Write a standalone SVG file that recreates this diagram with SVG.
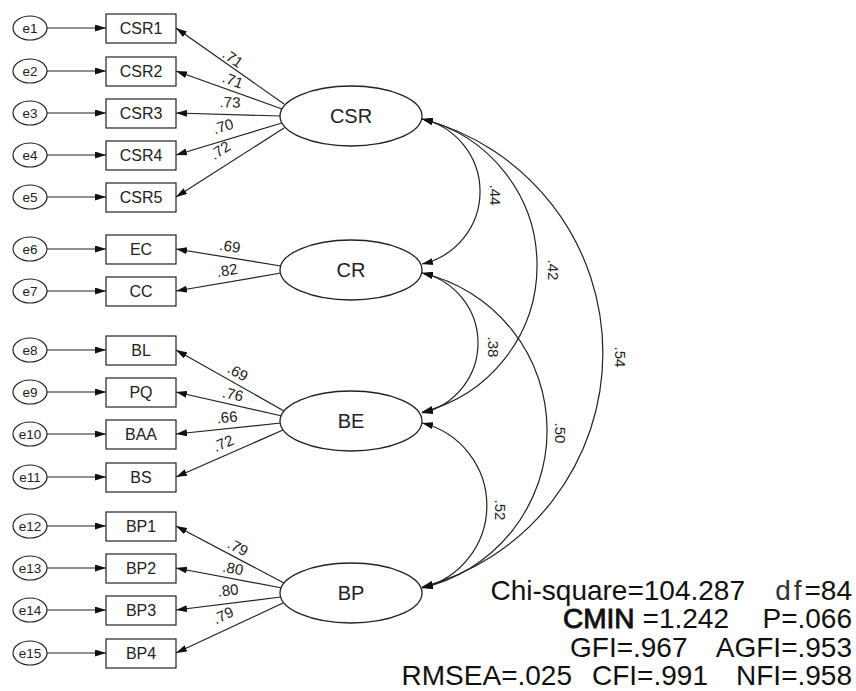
<svg xmlns="http://www.w3.org/2000/svg" width="856" height="691" viewBox="0 0 856 691">
<style>
.e{fill:#fff;stroke:#222;stroke-width:1.2}
.b{fill:#fff;stroke:#222;stroke-width:1.2}
.l{fill:#fff;stroke:#222;stroke-width:1.3}
.t{font-family:"Liberation Sans",Arial,sans-serif;fill:#222;text-anchor:middle}
.et{font-size:13.5px}
.bt{font-size:16px}
.lt{font-size:20px}
.w{font-family:"Liberation Sans",Arial,sans-serif;fill:#222;font-size:15px;text-anchor:middle;dominant-baseline:central}
.s{font-family:"Liberation Sans",Arial,sans-serif;fill:#111;font-size:28px}
.c line,.c path{stroke:#222;stroke-width:1.2;fill:none}
.c line{marker-end:url(#ah)}
.c path{marker-start:url(#ah);marker-end:url(#ah)}
</style>
<defs>
<marker id="ah" markerUnits="userSpaceOnUse" markerWidth="11" markerHeight="7" refX="11" refY="3.5" orient="auto-start-reverse">
<path d="M0,0 L11,3.5 L0,7 z" fill="#111"/>
</marker>
</defs>
<rect width="856" height="691" fill="#fff"/>

<g class="c" id="connectors">
<line x1="47" y1="28" x2="106" y2="28"/>
<line x1="47" y1="71" x2="106" y2="71"/>
<line x1="47" y1="113" x2="106" y2="113"/>
<line x1="47" y1="155" x2="106" y2="155"/>
<line x1="47" y1="197" x2="106" y2="197"/>
<line x1="47" y1="249" x2="106" y2="249"/>
<line x1="47" y1="291" x2="106" y2="291"/>
<line x1="47" y1="350" x2="106" y2="350"/>
<line x1="47" y1="392" x2="106" y2="392"/>
<line x1="47" y1="434" x2="106" y2="434"/>
<line x1="47" y1="477" x2="106" y2="477"/>
<line x1="47" y1="526" x2="106" y2="526"/>
<line x1="47" y1="568" x2="106" y2="568"/>
<line x1="47" y1="610" x2="106" y2="610"/>
<line x1="47" y1="653" x2="106" y2="653"/>
<line x1="284" y1="104" x2="176" y2="28"/>
<line x1="282" y1="109" x2="176" y2="71"/>
<line x1="281" y1="116" x2="176" y2="113"/>
<line x1="282" y1="123" x2="176" y2="155"/>
<line x1="284" y1="128" x2="176" y2="197"/>
<line x1="281" y1="266" x2="176" y2="249"/>
<line x1="281" y1="273" x2="176" y2="291"/>
<line x1="284" y1="411" x2="176" y2="350"/>
<line x1="282" y1="416" x2="176" y2="392"/>
<line x1="281" y1="423" x2="176" y2="434"/>
<line x1="283" y1="430" x2="176" y2="477"/>
<line x1="284" y1="583" x2="176" y2="526"/>
<line x1="282" y1="588" x2="176" y2="568"/>
<line x1="281" y1="597" x2="176" y2="610"/>
<line x1="283" y1="603" x2="176" y2="653"/>
<path d="M422,119 A74.3,74.3 0 0 1 422,264"/>
<path d="M422,119 A150.8,150.8 0 0 1 422,412"/>
<path d="M422,119 A241.8,241.8 0 0 1 422,587"/>
<path d="M422,273 A71.75,71.75 0 0 1 422,413"/>
<path d="M422,273 A161.7,161.7 0 0 1 422,588"/>
<path d="M422,423 A84.9,84.9 0 0 1 422,588"/>
</g>

<g id="weights">
<text class="w" transform="translate(233,58) rotate(35)">.71</text>
<text class="w" transform="translate(233,80) rotate(20)">.71</text>
<text class="w" transform="translate(230,102) rotate(2)">.73</text>
<text class="w" transform="translate(223,126) rotate(-17)">.70</text>
<text class="w" transform="translate(220,150) rotate(-33)">.72</text>
<text class="w" transform="translate(230,246) rotate(9)">.69</text>
<text class="w" transform="translate(227,270) rotate(-9)">.82</text>
<text class="w" transform="translate(238,372) rotate(30)">.69</text>
<text class="w" transform="translate(233,394) rotate(13)">.76</text>
<text class="w" transform="translate(227,417) rotate(-6)">.66</text>
<text class="w" transform="translate(223,443) rotate(-24)">.72</text>
<text class="w" transform="translate(238,547) rotate(28)">.79</text>
<text class="w" transform="translate(233,568) rotate(11)">.80</text>
<text class="w" transform="translate(228,590) rotate(-7)">.80</text>
<text class="w" transform="translate(223,615) rotate(-25)">.79</text>
<text class="w" transform="translate(495,195) rotate(90)">.44</text>
<text class="w" transform="translate(553,270) rotate(90)">.42</text>
<text class="w" transform="translate(620,357) rotate(90)">.54</text>
<text class="w" transform="translate(493,347) rotate(90)">.38</text>
<text class="w" transform="translate(560,433) rotate(90)">.50</text>
<text class="w" transform="translate(500,510) rotate(90)">.52</text>
</g>

<g id="e1"><ellipse class="e" cx="30" cy="28" rx="17" ry="12"/><text class="t et" x="30" y="33">e1</text></g>
<g id="e2"><ellipse class="e" cx="30" cy="71" rx="17" ry="12"/><text class="t et" x="30" y="76">e2</text></g>
<g id="e3"><ellipse class="e" cx="30" cy="113" rx="17" ry="12"/><text class="t et" x="30" y="118">e3</text></g>
<g id="e4"><ellipse class="e" cx="30" cy="155" rx="17" ry="12"/><text class="t et" x="30" y="160">e4</text></g>
<g id="e5"><ellipse class="e" cx="30" cy="197" rx="17" ry="12"/><text class="t et" x="30" y="202">e5</text></g>
<g id="e6"><ellipse class="e" cx="30" cy="249" rx="17" ry="12"/><text class="t et" x="30" y="254">e6</text></g>
<g id="e7"><ellipse class="e" cx="30" cy="291" rx="17" ry="12"/><text class="t et" x="30" y="296">e7</text></g>
<g id="e8"><ellipse class="e" cx="30" cy="350" rx="17" ry="12"/><text class="t et" x="30" y="355">e8</text></g>
<g id="e9"><ellipse class="e" cx="30" cy="392" rx="17" ry="12"/><text class="t et" x="30" y="397">e9</text></g>
<g id="e10"><ellipse class="e" cx="30" cy="434" rx="17" ry="12"/><text class="t et" x="30" y="439">e10</text></g>
<g id="e11"><ellipse class="e" cx="30" cy="477" rx="17" ry="12"/><text class="t et" x="30" y="482">e11</text></g>
<g id="e12"><ellipse class="e" cx="30" cy="526" rx="17" ry="12"/><text class="t et" x="30" y="531">e12</text></g>
<g id="e13"><ellipse class="e" cx="30" cy="568" rx="17" ry="12"/><text class="t et" x="30" y="573">e13</text></g>
<g id="e14"><ellipse class="e" cx="30" cy="610" rx="17" ry="12"/><text class="t et" x="30" y="615">e14</text></g>
<g id="e15"><ellipse class="e" cx="30" cy="653" rx="17" ry="12"/><text class="t et" x="30" y="658">e15</text></g>

<g id="CSR1"><rect class="b" x="106" y="14" width="70" height="29"/><text class="t bt" x="141" y="34">CSR1</text></g>
<g id="CSR2"><rect class="b" x="106" y="57" width="70" height="29"/><text class="t bt" x="141" y="77">CSR2</text></g>
<g id="CSR3"><rect class="b" x="106" y="99" width="70" height="29"/><text class="t bt" x="141" y="119">CSR3</text></g>
<g id="CSR4"><rect class="b" x="106" y="141" width="70" height="29"/><text class="t bt" x="141" y="161">CSR4</text></g>
<g id="CSR5"><rect class="b" x="106" y="183" width="70" height="29"/><text class="t bt" x="141" y="203">CSR5</text></g>
<g id="EC"><rect class="b" x="106" y="235" width="70" height="29"/><text class="t bt" x="141" y="255">EC</text></g>
<g id="CC"><rect class="b" x="106" y="277" width="70" height="29"/><text class="t bt" x="141" y="297">CC</text></g>
<g id="BL"><rect class="b" x="106" y="336" width="70" height="29"/><text class="t bt" x="141" y="356">BL</text></g>
<g id="PQ"><rect class="b" x="106" y="378" width="70" height="29"/><text class="t bt" x="141" y="398">PQ</text></g>
<g id="BAA"><rect class="b" x="106" y="420" width="70" height="29"/><text class="t bt" x="141" y="440">BAA</text></g>
<g id="BS"><rect class="b" x="106" y="463" width="70" height="29"/><text class="t bt" x="141" y="483">BS</text></g>
<g id="BP1"><rect class="b" x="106" y="512" width="70" height="29"/><text class="t bt" x="141" y="532">BP1</text></g>
<g id="BP2"><rect class="b" x="106" y="554" width="70" height="29"/><text class="t bt" x="141" y="574">BP2</text></g>
<g id="BP3"><rect class="b" x="106" y="596" width="70" height="29"/><text class="t bt" x="141" y="616">BP3</text></g>
<g id="BP4"><rect class="b" x="106" y="639" width="70" height="29"/><text class="t bt" x="141" y="659">BP4</text></g>

<g id="CSR"><ellipse class="l" cx="351" cy="116" rx="71" ry="30"/><text class="t lt" x="351" y="123">CSR</text></g>
<g id="CR"><ellipse class="l" cx="351" cy="270" rx="71" ry="30"/><text class="t lt" x="351" y="277">CR</text></g>
<g id="BE"><ellipse class="l" cx="351" cy="421" rx="71" ry="30"/><text class="t lt" x="351" y="428">BE</text></g>
<g id="BP"><ellipse class="l" cx="351" cy="593" rx="71" ry="30"/><text class="t lt" x="351" y="600">BP</text></g>

<g id="fit">
<text class="s" x="745" y="600" text-anchor="end">Chi-square=104.287</text>
<text class="s" x="852" y="600" text-anchor="end"><tspan fill="#333" letter-spacing="3">df</tspan>=84</text>
<text class="s" x="563" y="628" stroke="#111" stroke-width="0.9">CMIN</text>
<text class="s" x="729" y="628" text-anchor="end">=1.242</text>
<text class="s" x="852" y="628" text-anchor="end">P=.066</text>
<text class="s" x="570" y="657">GFI=.967</text>
<text class="s" x="852" y="657" text-anchor="end">AGFI=.953</text>
<text class="s" x="572" y="685" text-anchor="end">RMSEA=.025</text>
<text class="s" x="592" y="685">CFI=.991</text>
<text class="s" x="852" y="685" text-anchor="end">NFI=.958</text>
</g>
</svg>
